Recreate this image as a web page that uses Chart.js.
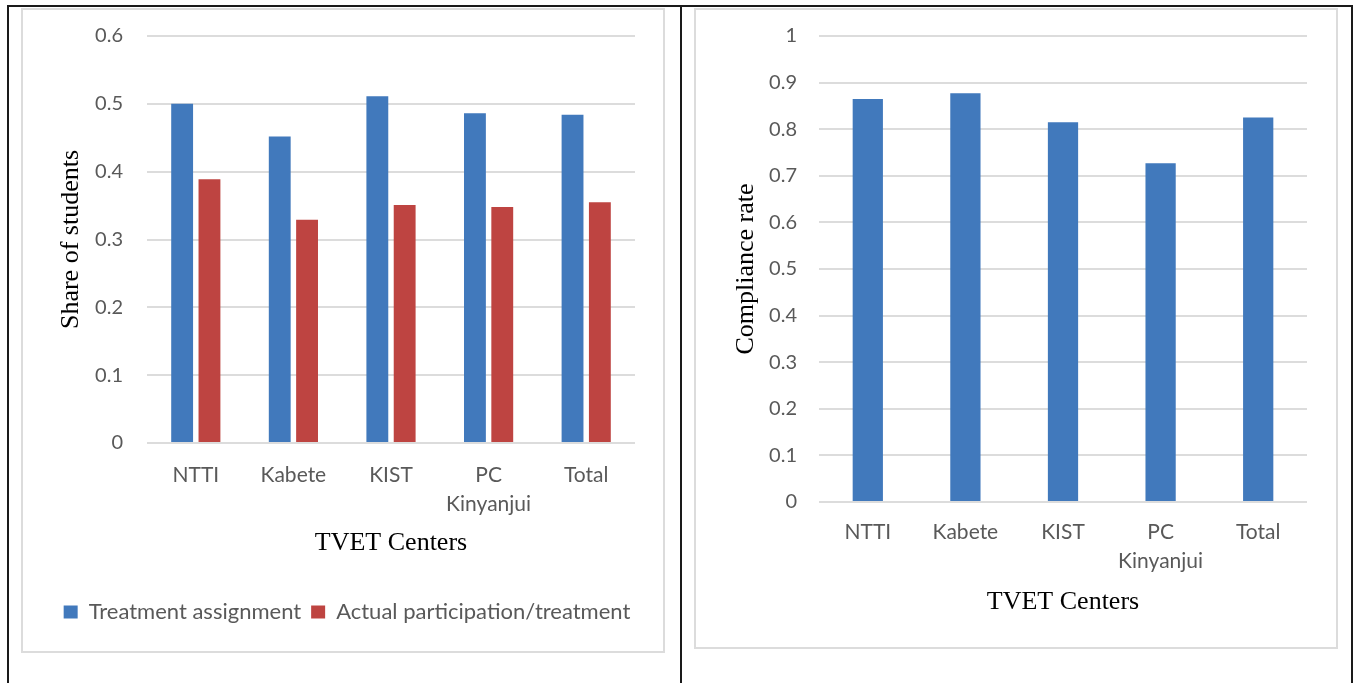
<!DOCTYPE html>
<html>
<head>
<meta charset="utf-8">
<script src="https://cdn.jsdelivr.net/npm/chart.js@4"></script>
<style>
  body { margin: 0; background: #fff; }
  #page { position: relative; width: 1357px; height: 683px; overflow: hidden; }
  .line { position: absolute; background: #1a1a1a; }
  .box { position: absolute; border: 2px solid #dcdcdc; box-sizing: border-box; }
  .box canvas { position: absolute; left: 0; top: 0; }
</style>
</head>
<body>
<div id="page">
  <div class="line" style="left:7px;top:5px;width:1346px;height:2px"></div>
  <div class="line" style="left:7px;top:5px;width:2px;height:678px"></div>
  <div class="line" style="left:680px;top:5px;width:2px;height:678px"></div>
  <div class="line" style="left:1351px;top:5px;width:2px;height:678px"></div>
  <div class="box" style="left:21px;top:8px;width:644px;height:645px">
    <canvas id="shareChart"></canvas>
  </div>
  <div class="box" style="left:694px;top:8px;width:644px;height:641px">
    <canvas id="complianceChart"></canvas>
  </div>
</div>
<script>
// data
var centers = ['NTTI', 'Kabete', 'KIST', ['PC', 'Kinyanjui'], 'Total'];
var treatmentAssignment = [0.500, 0.452, 0.511, 0.486, 0.484];
var actualParticipation = [0.389, 0.329, 0.351, 0.348, 0.355];
var complianceRate = [0.865, 0.877, 0.815, 0.727, 0.825];
var shareTicks = ['0', '0.1', '0.2', '0.3', '0.4', '0.5', '0.6'];
var complianceTicks = ['0', '0.1', '0.2', '0.3', '0.4', '0.5', '0.6', '0.7', '0.8', '0.9', '1'];

var blue = '#4179BC';
var red = '#BE4441';
var grey = '#595959';
var gridColor = '#dcdcdc';
var yTickFont = { family: 'Lato', size: 20, lineHeight: 1.4 };
var xTickFont = { family: 'Lato', size: 21, lineHeight: 29 / 21 };
var legendFont = { family: 'Lato', size: 22 };
var titleFont = { family: 'Liberation Serif', size: 26, lineHeight: 1.2 };

document.addEventListener('DOMContentLoaded', function() {
  drawShareChart();
  drawComplianceChart();
});

// fixed axis width, and no extra room taken for the top label
function fixY(width) {
  return function(s) {
    s.width = width;
    s.paddingTop = 0;
    s.paddingBottom = 0;
  };
}

function drawShareChart() {
  var canvas = document.getElementById('shareChart');
  canvas.width = 640; canvas.height = 641;
  canvas.style.width = '640px'; canvas.style.height = '641px';
  new Chart(canvas.getContext('2d'), {
    type: 'bar',
    data: {
      labels: centers,
      datasets: [{
        label: 'Treatment assignment',
        data: treatmentAssignment,
        backgroundColor: blue
      }, {
        label: 'Actual participation/treatment',
        data: actualParticipation,
        backgroundColor: red
      }]
    },
    options: {
      responsive: false,
      animation: false,
      categoryPercentage: 0.56,
      barPercentage: 0.8,
      layout: { padding: { top: 26, right: 0, bottom: 18, left: 8 } },
      plugins: {
        tooltip: { enabled: false },
        legend: {
          position: 'bottom',
          labels: { boxWidth: 14, boxHeight: 13, padding: 10, color: grey, font: legendFont }
        }
      },
      scales: {
        x: {
          afterFit: function(s) { s.height = 148; },
          grid: { display: false, drawTicks: false },
          border: { display: false },
          ticks: { color: grey, font: xTickFont, padding: 18, maxRotation: 0 },
          title: { display: true, text: 'TVET Centers', color: '#000', font: titleFont, padding: { top: 0, bottom: 32 } }
        },
        y: {
          min: 0, max: 0.6,
          afterFit: fixY(116),
          grid: { color: gridColor, lineWidth: 2, drawTicks: false },
          border: { display: false },
          ticks: {
            stepSize: 0.1, color: grey, font: yTickFont, padding: 24,
            callback: function(v, i) { return shareTicks[i]; }
          },
          title: { display: true, text: 'Share of students', color: '#000', font: titleFont, padding: { top: 25, bottom: 0 } }
        },
        // empty right margin so the legend can use the full width
        yPad: {
          type: 'linear',
          position: 'right',
          afterFit: fixY(28),
          grid: { display: false, drawTicks: false },
          border: { display: false },
          ticks: { display: false }
        }
      }
    }
  });
}

function drawComplianceChart() {
  var canvas = document.getElementById('complianceChart');
  canvas.width = 640; canvas.height = 637;
  canvas.style.width = '640px'; canvas.style.height = '637px';
  new Chart(canvas.getContext('2d'), {
    type: 'bar',
    data: {
      labels: centers,
      datasets: [{
        label: 'Compliance rate',
        data: complianceRate,
        backgroundColor: blue
      }]
    },
    options: {
      responsive: false,
      animation: false,
      categoryPercentage: 1,
      barPercentage: 0.31,
      layout: { padding: { top: 26, right: 29, bottom: 0, left: 0 } },
      plugins: {
        tooltip: { enabled: false },
        legend: { display: false }
      },
      scales: {
        x: {
          afterFit: function(s) { s.height = 145; },
          grid: { display: false, drawTicks: false },
          border: { display: false },
          ticks: { color: grey, font: xTickFont, padding: 16, maxRotation: 0 },
          title: { display: true, text: 'TVET Centers', color: '#000', font: titleFont, padding: { top: 0, bottom: 29 } }
        },
        y: {
          min: 0, max: 1,
          afterFit: fixY(123),
          grid: { color: gridColor, lineWidth: 2, drawTicks: false },
          border: { display: false },
          ticks: {
            stepSize: 0.1, color: grey, font: yTickFont, padding: 22,
            callback: function(v, i) { return complianceTicks[i]; }
          },
          title: { display: true, text: 'Compliance rate', color: '#000', font: titleFont, padding: { top: 35, bottom: 0 } }
        }
      }
    }
  });
}
</script>
</body>
</html>
